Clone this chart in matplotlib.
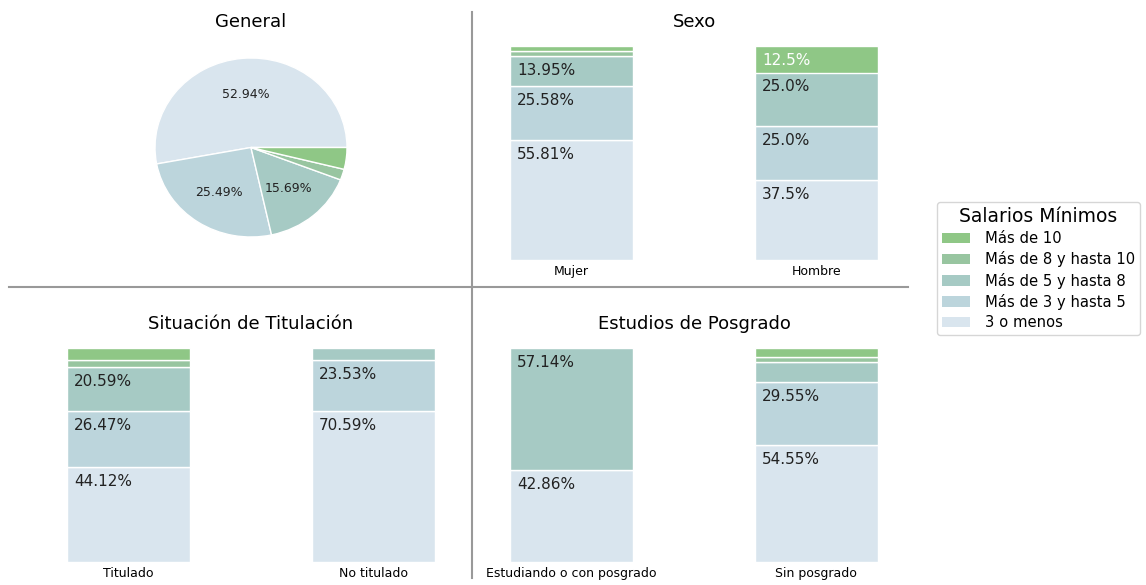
import matplotlib.pyplot as plt
from matplotlib.lines import Line2D
from matplotlib.patches import Patch

# categories (bottom to top of each stack)
categorias = ["3 o menos", "Más de 3 y hasta 5", "Más de 5 y hasta 8",
              "Más de 8 y hasta 10", "Más de 10"]
colores = ["#d9e5ee", "#bcd5dc", "#a6cac4", "#98c5a0", "#8fc786"]

# counts per category, same order as categorias
general = [27, 13, 8, 1, 2]

sexo_grupos = ["Mujer", "Hombre"]
sexo = [[24, 11, 6, 1, 1],
        [3, 2, 2, 0, 1]]

titulacion_grupos = ["Titulado", "No titulado"]
titulacion = [[15, 9, 7, 1, 2],
              [12, 4, 1, 0, 0]]

posgrado_grupos = ["Estudiando o con posgrado", "Sin posgrado"]
posgrado = [[3, 0, 4, 0, 0],
            [24, 13, 4, 1, 2]]

W, H = 1146, 585
fig = plt.figure(figsize=(W / 100, H / 100), dpi=100)


def px_axes(x0, y0, x1, y1):
    return fig.add_axes([x0 / W, 1 - y1 / H, (x1 - x0) / W, (y1 - y0) / H])


def stacked(ax, grupos, datos, title):
    width = 0.5
    for i, (g, vals) in enumerate(zip(grupos, datos)):
        total = sum(vals)
        bottom = 0
        for k, v in enumerate(vals):
            pct = 100 * v / total
            if pct > 0:
                ax.bar(i, pct, width, bottom=bottom, color=colores[k],
                       edgecolor="white", linewidth=1)
                if pct >= 10:
                    txt = f"{pct:.2f}%" if round(pct, 2) != round(pct, 1) else f"{pct:.1f}%"
                    ax.annotate(txt, (i - width / 2, bottom + pct), xytext=(5, -5),
                                textcoords="offset points", va="top", ha="left",
                                fontsize=11,
                                color="white" if k == 4 else "#222222")
            bottom += pct
    ax.set_xticks(range(len(grupos)))
    ax.set_xticklabels(grupos, fontsize=9)
    ax.tick_params(length=0)
    ax.set_yticks([])
    ax.set_ylim(0, 105)
    ax.set_xlim(-0.325, 1.325)
    for s in ax.spines.values():
        s.set_visible(False)
    ax.set_title(title, fontsize=13)


# General pie
ax = px_axes(49, 35, 453, 260)
ax.pie(general, colors=colores, startangle=0, counterclock=True,
       autopct=lambda p: f"{p:.2f}%" if p >= 10 else "", pctdistance=0.6,
       wedgeprops=dict(edgecolor="white", linewidth=1),
       textprops=dict(fontsize=9, color="#222222"))
ax.set_aspect("auto")
ax.set_xlim(-404 / 2 / 96, 404 / 2 / 96)
ax.set_ylim(-225 / 2 / 89.5, 225 / 2 / 89.5)
ax.set_title("General", fontsize=13)

stacked(px_axes(492, 35, 896, 260), sexo_grupos, sexo, "Sexo")
stacked(px_axes(49, 337, 453, 562), titulacion_grupos, titulacion,
        "Situación de Titulación")
stacked(px_axes(492, 337, 896, 562), posgrado_grupos, posgrado,
        "Estudios de Posgrado")

# separators
fig.add_artist(Line2D([9 / W, 908 / W], [1 - 286.5 / H] * 2, color="#999999", lw=1.5))
fig.add_artist(Line2D([472 / W] * 2, [1 - 12 / H, 1 - 578 / H], color="#999999", lw=1.5))

handles = [Patch(facecolor=c, label=l) for c, l in zip(colores, categorias)][::-1]
fig.legend(handles=handles, title="Salarios Mínimos", loc="center left",
           bbox_to_anchor=(937 / W, 1 - 268.5 / H), borderaxespad=0,
           fontsize=10.6, title_fontsize=13.5,
           labelspacing=0.35, borderpad=0.35, handlelength=1.9,
           handletextpad=1.0)

fig.savefig("out.png", dpi=100)
